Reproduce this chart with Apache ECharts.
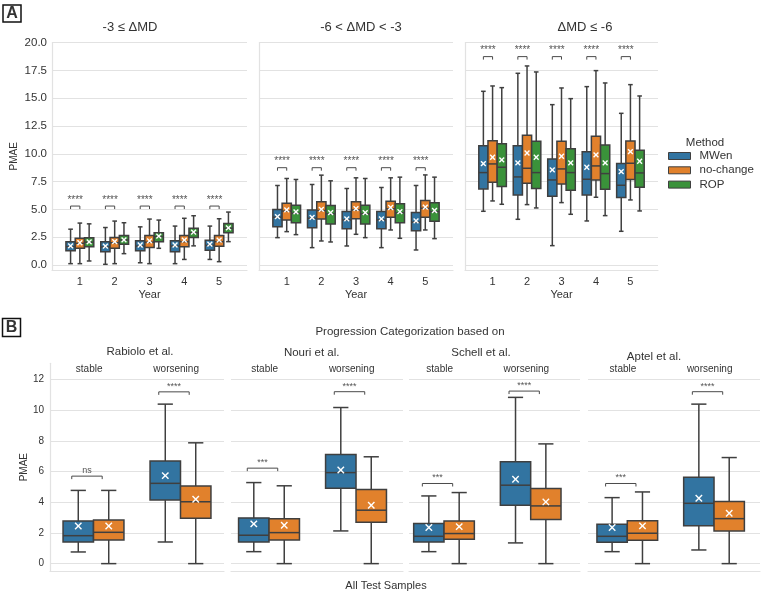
<!DOCTYPE html>
<html><head><meta charset="utf-8">
<script src="https://cdn.jsdelivr.net/npm/echarts@6/dist/echarts.min.js"></script>
<style>html,body{margin:0;padding:0;background:#fff}#c{width:762px;height:595px}</style>
</head><body><div id="c"></div>
<script>
// ---------------- DATA ----------------
const years = [1, 2, 3, 4, 5];
const methods = ['MWen', 'no-change', 'ROP'];
const panelATitles = ['-3 \u2264 \u0394MD', '-6 < \u0394MD < -3', '\u0394MD \u2264 -6'];
const yTicksA = [0, 2.5, 5, 7.5, 10, 12.5, 15, 17.5, 20];
const yTicksB = [0, 2, 4, 6, 8, 10, 12];
const catsB = ['stable', 'worsening'];
const panelBTitles = ['Rabiolo et al.', 'Nouri et al.', 'Schell et al.', 'Aptel et al.'];

// each box: [lowWhisker, q1, median, q3, highWhisker, mean]
const aMildMWen = [[0.12,1.27,1.65,2.08,3.22,1.72],[0.06,1.2,1.62,2.08,3.37,1.7],[0.2,1.27,1.7,2.17,3.43,1.8],[0.12,1.2,1.7,2.17,3.5,1.8],[0.5,1.33,1.77,2.23,3.5,1.87]];
const aMildNoChange = [[0.12,1.5,1.95,2.41,3.77,2.0],[0.12,1.5,2.0,2.47,3.95,2.1],[0.12,1.57,2.05,2.65,4.13,2.17],[0.5,1.63,2.1,2.65,4.2,2.23],[0.3,1.69,2.1,2.65,4.16,2.23]];
const aMildROP = [[0.36,1.63,2.05,2.44,3.7,2.08],[1.02,1.87,2.25,2.65,3.8,2.26],[1.5,2.1,2.55,2.89,4.04,2.6],[1.72,2.47,2.9,3.31,4.43,2.95],[2.1,2.89,3.3,3.73,4.76,3.34]];

const aModMWen = [[2.46,3.45,4.3,5.0,7.15,4.35],[1.56,3.36,4.2,4.95,7.24,4.29],[1.71,3.27,4.05,4.8,6.88,4.14],[1.56,3.27,4.05,4.8,6.97,4.14],[1.35,3.09,3.85,4.71,7.15,3.96]];
const aModNoChange = [[3.0,4.05,4.85,5.55,7.78,4.95],[2.16,4.14,4.9,5.68,8.08,5.0],[2.76,4.17,4.95,5.68,7.84,5.07],[3.15,4.29,5.05,5.74,7.84,5.17],[3.15,4.29,5.1,5.8,8.1,5.2]];
const aModROP = [[2.73,3.81,4.65,5.37,7.69,4.77],[2.07,3.69,4.6,5.35,7.57,4.71],[2.46,3.69,4.6,5.37,7.78,4.71],[2.4,3.81,4.7,5.5,7.9,4.8],[2.37,3.93,4.8,5.59,7.9,4.9]];

const aSevMWen = [[4.83,6.84,8.31,10.73,15.62,9.12],[4.11,6.3,7.92,10.73,17.24,9.18],[1.74,6.18,7.65,9.54,14.42,8.55],[3.96,6.3,7.71,10.19,16.04,8.79],[3.03,6.06,7.17,9.12,13.64,8.4]];
const aSevNoChange = [[5.76,7.44,9.09,11.18,16.1,9.69],[5.43,7.35,8.7,11.66,17.9,10.07],[5.61,7.29,8.64,11.12,15.92,9.78],[6.09,7.65,8.91,11.57,17.48,9.9],[5.85,7.68,9.15,11.15,16.22,10.2]];
const aSevROP = [[5.46,7.05,8.79,10.91,15.95,9.45],[5.13,6.87,8.31,11.12,17.36,9.69],[4.56,6.72,8.31,10.46,14.96,9.18],[4.44,6.81,8.22,10.79,16.37,9.18],[4.86,6.99,8.28,10.31,15.2,9.33]];

const sigMild = ['****','****','****','****','****'];
const sigMildY = [5.3, 5.3, 5.3, 5.3, 5.3];
const sigMod = ['****','****','****','****','****'];
const sigModY = [8.75, 8.75, 8.75, 8.75, 8.75];
const sigSev = ['****','****','****','****','****'];
const sigSevY = [18.74, 18.74, 18.74, 18.74, 18.74];

// panel B: [stable, worsening]
const bRabioloMWen = [[0.76,1.41,1.82,2.78,4.77,2.45],[1.41,4.14,5.23,6.68,10.39,5.73]];
const bRabioloNoChange = [[0,1.54,2.04,2.84,4.77,2.45],[0,2.95,4.03,5.05,7.87,4.19]];
const bNouriMWen = [[0.78,1.41,1.85,2.98,5.28,2.59],[2.13,4.91,5.93,7.11,10.17,6.1]];
const bNouriNoChange = [[0,1.54,2.02,2.93,5.07,2.5],[0,2.7,3.48,4.83,6.96,3.8]];
const bSchellMWen = [[0.78,1.41,1.78,2.61,4.41,2.35],[1.35,3.8,5.11,6.63,10.83,5.5]];
const bSchellNoChange = [[0,1.59,1.96,2.78,4.63,2.41],[0,2.87,3.76,4.89,7.8,4.02]];
const bAptelMWen = [[0.78,1.39,1.78,2.57,4.3,2.35],[0.89,2.46,3.93,5.63,10.39,4.26]];
const bAptelNoChange = [[0,1.52,1.98,2.8,4.67,2.46],[0,2.13,2.93,4.04,6.91,3.28]];

const sigRabiolo = ['ns','****'];   const sigRabioloY = [5.7, 11.19];
const sigNouri = ['***','****'];    const sigNouriY = [6.22, 11.2];
const sigSchell = ['***','****'];   const sigSchellY = [5.22, 11.24];
const sigAptel = ['***','****'];    const sigAptelY = [5.22, 11.2];

// ---------------- STYLE / LAYOUT ----------------
const FONT = "'Liberation Sans', Arial, Helvetica, sans-serif";
const EDGE = '#3f3f3f';
const GRIDC = '#e2e2e2';
const TXT = '#333333';
const COLORS = {'MWen':'#3274a1','no-change':'#e1812c','ROP':'#3a923a'};

const A_TOP = 42.6, A_H = 227.4;
const aGrids = [{left:52,width:195},{left:259,width:194},{left:465,width:193}];
const B_TOP = 363.3, B_H = 207.7;
const bGrids = [
  {left:50,width:174,min:-0.5,max:1.5},
  {left:231,width:172,min:-0.437,max:1.54},
  {left:409,width:171,min:-0.404,max:1.569},
  {left:588,width:172,min:-0.453,max:1.53}
];

const aPanels = [
  {boxes:{'MWen':aMildMWen,'no-change':aMildNoChange,'ROP':aMildROP}, sig:sigMild, sigY:sigMildY},
  {boxes:{'MWen':aModMWen,'no-change':aModNoChange,'ROP':aModROP}, sig:sigMod, sigY:sigModY},
  {boxes:{'MWen':aSevMWen,'no-change':aSevNoChange,'ROP':aSevROP}, sig:sigSev, sigY:sigSevY}
];
const bPanels = [
  {boxes:{'MWen':bRabioloMWen,'no-change':bRabioloNoChange}, sig:sigRabiolo, sigY:sigRabioloY},
  {boxes:{'MWen':bNouriMWen,'no-change':bNouriNoChange}, sig:sigNouri, sigY:sigNouriY},
  {boxes:{'MWen':bSchellMWen,'no-change':bSchellNoChange}, sig:sigSchell, sigY:sigSchellY},
  {boxes:{'MWen':bAptelMWen,'no-change':bAptelNoChange}, sig:sigAptel, sigY:sigAptelY}
];

function boxSeries(name, arr, xs, axisIdx, hueIdx, nHue, hueW, markHalf) {
  const color = COLORS[name];
  return {
    type: 'custom', name: name, xAxisIndex: axisIdx.x, yAxisIndex: axisIdx.y,
    itemStyle: {color: color},
    data: xs.map((x, i) => [x].concat(arr[i])),
    renderItem: function (params, api) {
      const x = api.value(0) + (hueIdx - (nHue - 1) / 2) * hueW;
      const w = api.size([hueW, 0])[0];
      const p = k => api.coord([x, api.value(k)]);
      const lo = p(1), q1 = p(2), md = p(3), q3 = p(4), hi = p(5), mn = p(6);
      const cx = lo[0], half = w / 2, cap = w * 0.25, m = markHalf;
      const st = {stroke: EDGE, lineWidth: 1.5};
      return {type: 'group', children: [
        {type:'line', shape:{x1:cx,y1:hi[1],x2:cx,y2:q3[1]}, style:st},
        {type:'line', shape:{x1:cx,y1:q1[1],x2:cx,y2:lo[1]}, style:st},
        {type:'line', shape:{x1:cx-cap,y1:hi[1],x2:cx+cap,y2:hi[1]}, style:st},
        {type:'line', shape:{x1:cx-cap,y1:lo[1],x2:cx+cap,y2:lo[1]}, style:st},
        {type:'rect', shape:{x:cx-half,y:q3[1],width:w,height:q1[1]-q3[1]}, style:{fill:color, stroke:EDGE, lineWidth:1.5}},
        {type:'line', shape:{x1:cx-half,y1:md[1],x2:cx+half,y2:md[1]}, style:st},
        {type:'line', shape:{x1:mn[0]-m,y1:mn[1]-m,x2:mn[0]+m,y2:mn[1]+m}, style:{stroke:'#fff',lineWidth:1.4}},
        {type:'line', shape:{x1:mn[0]-m,y1:mn[1]+m,x2:mn[0]+m,y2:mn[1]-m}, style:{stroke:'#fff',lineWidth:1.4}}
      ]};
    }
  };
}

function sigSeries(labels, ys, xs, axisIdx, b1, b2, fontSize) {
  return {
    type: 'custom', name: 'sig', xAxisIndex: axisIdx.x, yAxisIndex: axisIdx.y,
    data: xs.map((x, i) => [x, ys[i]]),
    renderItem: function (params, api) {
      const x = api.value(0), y = api.value(1);
      const a = api.coord([x + b1, y]), b = api.coord([x + b2, y]);
      const leg = 3;
      return {type:'group', children:[
        {type:'polyline', shape:{points:[[a[0],a[1]+leg],[a[0],a[1]],[b[0],b[1]],[b[0],b[1]+leg]]}, style:{stroke:'#4a4a4a', lineWidth:1, fill:'none'}},
        {type:'text', x:(a[0]+b[0])/2, y:a[1]-1, style:{text:labels[params.dataIndex], fill:'#555', font: fontSize+'px '+FONT, align:'center', verticalAlign:'bottom', textAlign:'center', textVerticalAlign:'bottom'}}
      ]};
    }
  };
}

// ---------------- BUILD OPTION ----------------
const grid = [], xAxis = [], yAxis = [], series = [];
const axisText = (size) => ({color: TXT, fontSize: size, fontFamily: FONT});

aGrids.forEach((g, k) => {
  grid.push({left: g.left, width: g.width, top: A_TOP, height: A_H});
  xAxis.push({type:'value', gridIndex:k, min:0.2, max:5.8,
    axisLine:{show:true, onZero:false, lineStyle:{color:GRIDC, width:1.2}},
    axisTick:{show:false}, splitLine:{show:false},
    axisLabel:Object.assign({customValues:years, formatter:v=>String(v), margin:6}, axisText(11)),
    name:'Year', nameLocation:'middle', nameGap:19, nameTextStyle:axisText(11)});
  yAxis.push({type:'value', gridIndex:k, min:-0.45, max:20,
    axisLine:{show:true, onZero:false, lineStyle:{color:GRIDC, width:1.2}},
    axisTick:{show:false, customValues:yTicksA},
    axisLabel:Object.assign({show:k===0, customValues:yTicksA, formatter:v=>v.toFixed(1), margin:5}, axisText(11.5)),
    splitLine:{show:true, lineStyle:{color:GRIDC, width:1.2}},
    name:k===0?'PMAE':'', nameLocation:'middle', nameGap:33, nameTextStyle:axisText(10)});
});
bGrids.forEach((g, k) => {
  grid.push({left: g.left, width: g.width, top: B_TOP, height: B_H});
});
bGrids.forEach((g, k) => {
  xAxis.push({type:'value', gridIndex:3+k, min:g.min, max:g.max,
    axisLine:{show:true, onZero:false, lineStyle:{color:GRIDC, width:1.2}},
    axisTick:{show:false}, axisLabel:{show:false}, splitLine:{show:false}});
});
bGrids.forEach((g, k) => {
  xAxis.push({type:'value', gridIndex:3+k, position:'top', min:g.min, max:g.max,
    axisLine:{show:false, onZero:false}, axisTick:{show:false}, splitLine:{show:false},
    axisLabel:Object.assign({inside:true, customValues:[-0.05, 0.95], formatter:v=>catsB[Math.round(v)] || '', margin:1}, axisText(10))});
  yAxis.push({type:'value', gridIndex:3+k, min:-0.48, max:13.05,
    axisLine:{show:k===0, onZero:false, lineStyle:{color:GRIDC, width:1.2}},
    axisTick:{show:false, customValues:yTicksB},
    axisLabel:Object.assign({show:k===0, customValues:yTicksB, formatter:v=>String(v), margin:6}, axisText(10)),
    splitLine:{show:true, lineStyle:{color:GRIDC, width:1.2}},
    name:k===0?'PMAE':'', nameLocation:'middle', nameGap:20, nameTextStyle:axisText(10)});
});

const hueA = 0.8 / 3;
aPanels.forEach((pn, k) => {
  methods.forEach((m, h) => series.push(boxSeries(m, pn.boxes[m], years, {x:k, y:k}, h, 3, hueA, 2.4)));
  series.push(sigSeries(pn.sig, pn.sigY, years, {x:k, y:k}, -hueA, 0, 10));
});
const hueB = 0.35;
bPanels.forEach((pn, k) => {
  ['MWen','no-change'].forEach((m, h) => series.push(boxSeries(m, pn.boxes[m], [0, 1], {x:3+k, y:3+k}, h, 2, hueB, 3.2)));
  series.push(sigSeries(pn.sig, pn.sigY, [0, 1], {x:3+k, y:3+k}, -0.25, 0.1, 9));
});

function txt(text, x, y, size, extra) {
  return Object.assign({type:'text', x:x, y:y, silent:true, style:{text:text, font:(extra||'')+size+'px '+FONT, fill:TXT,
    align:'center', verticalAlign:'middle', textAlign:'center', textVerticalAlign:'middle'}});
}
const aTitlePos = [[130,27],[361,27],[585,27]];
const bTitlePos = [[140,352],[311.7,353],[481,353],[654,356.5]];
const graphic = [
  {type:'rect', silent:true, shape:{x:3,y:5,width:18,height:17}, style:{fill:'#fff', stroke:'#111', lineWidth:1.5}},
  txt('A', 12, 14, 16, 'bold '),
  {type:'rect', silent:true, shape:{x:2.5,y:318.5,width:18,height:18}, style:{fill:'#fff', stroke:'#111', lineWidth:1.5}},
  txt('B', 11.5, 328, 16, 'bold '),
  txt('Method', 705, 143, 11.5),
  txt('Progression Categorization based on', 410, 332, 11.5),
  txt('All Test Samples', 386, 586, 11)
];
panelATitles.forEach((t, i) => graphic.push(txt(t, aTitlePos[i][0], aTitlePos[i][1], 13)));
panelBTitles.forEach((t, i) => graphic.push(txt(t, bTitlePos[i][0], bTitlePos[i][1], 11.5)));

const option = {
  animation: false,
  backgroundColor: '#ffffff',
  textStyle: {fontFamily: FONT},
  grid: grid, xAxis: xAxis, yAxis: yAxis, series: series,
  legend: {data: methods, orient:'vertical', left:668, top:149.5, padding:0, itemWidth:22, itemHeight:7, itemGap:1.3,
    icon:'rect', selectedMode:false, itemStyle:{borderColor:EDGE, borderWidth:1},
    textStyle:{fontSize:11.5, color:TXT, fontFamily:FONT, padding:[0,0,0,4], lineHeight:13}},
  graphic: graphic
};
const chart = echarts.init(document.getElementById('c'));
chart.setOption(option);
</script>
</body></html>
